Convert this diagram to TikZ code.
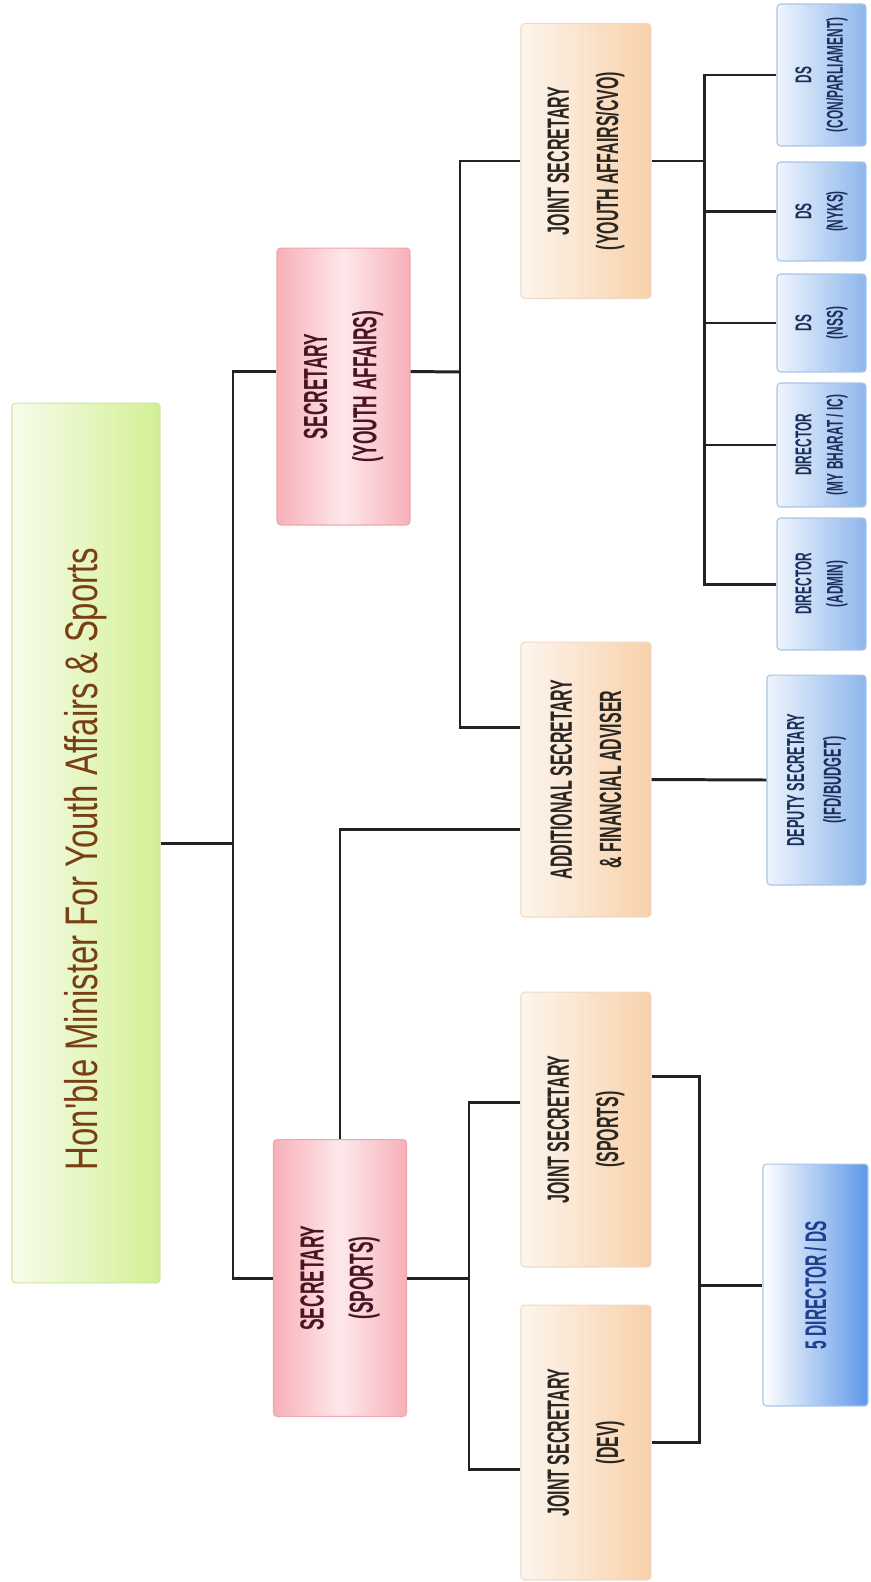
\documentclass[tikz,border=0pt]{standalone}
\usepackage{fontspec}
\setmainfont{Liberation Sans}
\newfontfamily\titlefont[FakeStretch=0.72]{Liberation Sans}
\newfontfamily\boxfont[FakeStretch=0.52]{Liberation Sans}
\usepackage{tikz}
\usetikzlibrary{positioning}
\usetikzlibrary{calc}

\definecolor{minlight}{HTML}{F7FCEC}
\definecolor{minfill}{HTML}{D3F094}
\definecolor{minline}{HTML}{CDE6A0}
\definecolor{mintext}{HTML}{7A3E14}
\definecolor{seclight}{HTML}{FDE8EB}
\definecolor{secfill}{HTML}{F7B0B8}
\definecolor{secline}{HTML}{F0A6AF}
\definecolor{sectext}{HTML}{4A1422}
\definecolor{jslight}{HTML}{FDF6EE}
\definecolor{jsfill}{HTML}{F8D0AA}
\definecolor{jsline}{HTML}{F2DAC2}
\definecolor{jstext}{HTML}{2A2622}
\definecolor{dslight}{HTML}{EEF4FC}
\definecolor{dsfill}{HTML}{8DB6EC}
\definecolor{dsline}{HTML}{A9C4E8}
\definecolor{dstext}{HTML}{1C2F5C}
\definecolor{dirfill}{HTML}{5D97E8}
\definecolor{dirtext}{HTML}{1F3F8F}
\definecolor{linegray}{HTML}{222222}

\tikzset{
  box/.style = {rotate=90, rounded corners=2pt, align=center, inner sep=0pt, line width=0.6pt},
  minbox/.style = {box, draw=minline, left color=minlight, right color=minfill,
    minimum width=17.6cm, minimum height=2.96cm, text=mintext,
    font=\titlefont\fontsize{26}{30}\selectfont},
  secbox/.style = {box, draw=secline, left color=secfill, right color=secfill, middle color=seclight,
    minimum width=5.54cm, minimum height=2.66cm, text=sectext,
    font=\boxfont\bfseries\fontsize{19}{28}\selectfont},
  jsbox/.style = {box, draw=jsline, left color=jslight, right color=jsfill,
    minimum width=5.5cm, minimum height=2.6cm, text=jstext,
    font=\boxfont\bfseries\fontsize{17.5}{28}\selectfont},
  dsbox/.style = {box, draw=dsline, left color=dslight, right color=dsfill,
    minimum height=1.78cm, text=dstext,
    font=\boxfont\bfseries\fontsize{13}{18}\selectfont},
  conn/.style = {draw=linegray, line width=1.7pt},
}

\begin{document}
\begin{tikzpicture}[x=0.02cm, y=-0.02cm]
\useasboundingbox (0,0) rectangle (870,1582);

% top and second level
\node[minbox] (min) at (86,843) {Hon'ble Minister For Youth Affairs \& Sports\hspace*{0.64cm}};
\node[secbox] (secya) at (343.5,386.5) {SECRETARY\\(YOUTH AFFAIRS)};
\node[secbox] (secsp) at (340,1278) {SECRETARY\\(SPORTS)};

% joint secretaries
\node[jsbox] (jsya) at (586,161) {JOINT SECRETARY\\(YOUTH AFFAIRS/CVO)};
\node[jsbox] (asfa) at (586,779.5) {ADDITIONAL SECRETARY\\\& FINANCIAL ADVISER};
\node[jsbox] (jssp) at (586,1129.5) {JOINT SECRETARY\\(SPORTS)};
\node[jsbox] (jsdev) at (586,1442.5) {JOINT SECRETARY\\(DEV)};

% directors / deputy secretaries
\node[dsbox, minimum width=2.84cm] (dscon) at (821.5,75) {DS\\(CON/PARLIAMENT)};
\node[dsbox, minimum width=1.98cm] (dsnyks) at (821.5,211.5) {DS\\(NYKS)};
\node[dsbox, minimum width=1.96cm] (dsnss) at (821.5,323) {DS\\(NSS)};
\node[dsbox, minimum width=2.48cm] (dirmb) at (821.5,445) {DIRECTOR\\(MY BHARAT / IC)};
\node[dsbox, minimum width=2.64cm] (dsadmin) at (821.5,584) {DIRECTOR\\(ADMIN)};
\node[dsbox, minimum width=4.2cm, minimum height=1.98cm,
  font=\boxfont\bfseries\fontsize{14}{21}\selectfont] (dsfd) at (816.5,780) {DEPUTY SECRETARY\\(IFD/BUDGET)};
\node[dsbox, minimum width=4.84cm, minimum height=2.1cm, left color=white, right color=dirfill,
  text=dirtext, font=\boxfont\bfseries\fontsize{17}{20}\selectfont] (fivedir) at (815.5,1285) {5 DIRECTOR / DS};

\coordinate (trunk) at (233,843);
\coordinate (yabr) at (460,372);
\coordinate (spbr) at (469,1278);
\coordinate (dirbr) at (699,1285);
\coordinate (dsbr) at (704,161);

\draw[conn] (min.south) -- (trunk);
\draw[conn] ($(secya.north)+(0,-15)$) -| (trunk) |- (secsp.north);

\draw[conn] ($(secya.south)+(0,-15)$) -- (yabr);
\draw[conn] (jsya.north) -| (yabr) |- ($(asfa.north)+(0,-52)$);
\draw[conn] (secsp.east) |- ($(asfa.north)+(0,50)$);

\draw[conn] (secsp.south) -- (spbr);
\draw[conn] ($(jssp.north)+(0,-27)$) -| (spbr) |- ($(jsdev.north)+(0,27)$);
\draw[conn] ($(jssp.south)+(0,-53)$) -| (dirbr) |- (jsdev.south);
\draw[conn] (dirbr) -- (fivedir.north);

\draw[conn] (asfa.south) -- (dsfd.north);

\draw[conn] (jsya.south) -- (dsbr);
\draw[conn] (dscon.north) -| (dsbr) |- (dsadmin.north);
\foreach \n in {dsnyks,dsnss,dirmb}
  \draw[conn] (\n.north -| dsbr) -- (\n.north);
\end{tikzpicture}
\end{document}
